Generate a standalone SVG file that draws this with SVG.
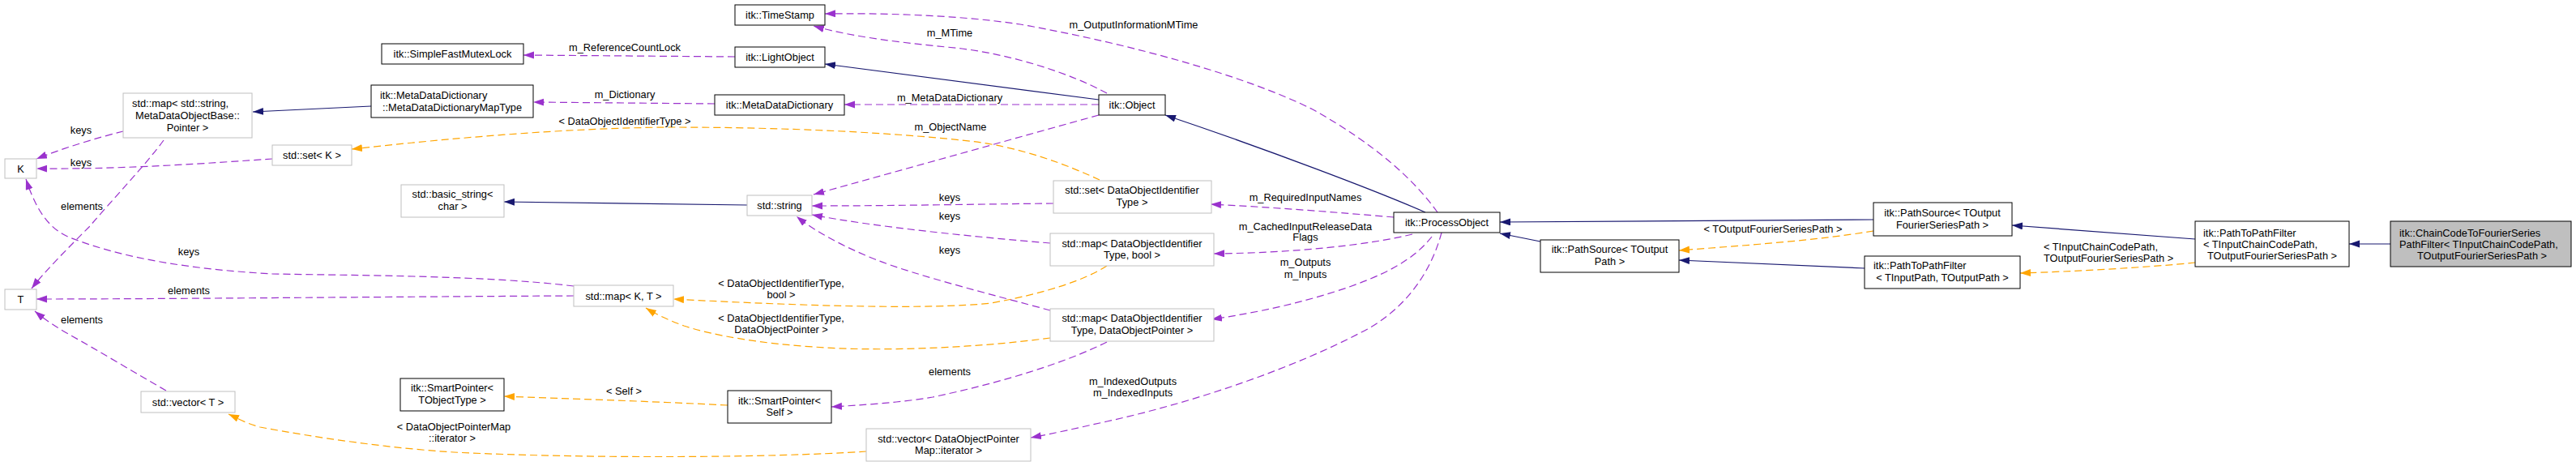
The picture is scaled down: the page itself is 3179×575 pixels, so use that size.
<svg xmlns="http://www.w3.org/2000/svg" width="3179" height="575" viewBox="0 0 3179 575">
<style>
text{font-family:"Liberation Sans",Arial,sans-serif;font-size:12.8px;fill:#000}
.m{text-anchor:middle}
.s{text-anchor:start}
.nb{fill:#fff;stroke:#000;stroke-width:1}
.ng{fill:#fff;stroke:#bfbfbf;stroke-width:1}
.nf{fill:#bfbfbf;stroke:#000;stroke-width:1}
.eb{fill:none;stroke:#191970;stroke-width:1.2;marker-end:url(#ab)}
.ep{fill:none;stroke:#9a32cd;stroke-width:1.2;stroke-dasharray:9,5;marker-end:url(#ap)}
.eo{fill:none;stroke:#ffa500;stroke-width:1.2;stroke-dasharray:9,5;marker-end:url(#ao)}
</style>
<defs>
<marker id="ab" markerUnits="userSpaceOnUse" markerWidth="14" markerHeight="10" refX="13" refY="4.5" orient="auto"><path d="M0,0 L13,4.5 L0,9 z" fill="#191970"/></marker>
<marker id="ap" markerUnits="userSpaceOnUse" markerWidth="14" markerHeight="10" refX="13" refY="4.5" orient="auto"><path d="M0,0 L13,4.5 L0,9 z" fill="#9a32cd"/></marker>
<marker id="ao" markerUnits="userSpaceOnUse" markerWidth="14" markerHeight="10" refX="13" refY="4.5" orient="auto"><path d="M0,0 L13,4.5 L0,9 z" fill="#ffa500"/></marker>
</defs>
<rect x="0" y="0" width="3179" height="575" fill="#fff"/>
<g id="edges">
<path class="eb" d="M458,131 L312,138"/>
<path class="eb" d="M922,253 L622,249"/>
<path class="eb" d="M1356,123 L1018,79"/>
<path class="eb" d="M1759,262 C1700,236 1560,183 1438,142"/>
<path class="eb" d="M1901,298 L1851,288"/>
<path class="eb" d="M2312,271 L1851,274"/>
<path class="eb" d="M2301,331 L2072,321"/>
<path class="eb" d="M2709,295 L2483,278"/>
<path class="eb" d="M2950,301 L2899,301"/>
<path class="ep" d="M152,162 C120,170 80,182 45,196"/>
<path class="ep" d="M336,196 C260,201 160,209 45,208"/>
<path class="ep" d="M202,173 C180,203 140,245 110,280 C85,305 55,335 39,356"/>
<path class="ep" d="M708,353 C600,340 450,340 336,338 C250,333 160,322 86,293 C60,282 45,260 32,221"/>
<path class="ep" d="M708,365 C500,366 200,369 45,369"/>
<path class="ep" d="M205,482 C170,462 120,432 86,413 C70,404 55,394 43,384"/>
<path class="ep" d="M907,70 L646,68"/>
<path class="ep" d="M882,128 L658,126"/>
<path class="ep" d="M1366,115 C1320,90 1250,68 1187,60 C1130,54 1060,48 1004,32"/>
<path class="ep" d="M1774,262 C1745,222 1700,180 1620,135 C1540,95 1400,55 1259,30 C1180,18 1080,16 1018,17"/>
<path class="ep" d="M1356,129 L1042,129"/>
<path class="ep" d="M1356,142 L1004,240"/>
<path class="ep" d="M1300,251 C1200,252 1100,254 1002,254"/>
<path class="ep" d="M1296,300 C1200,292 1080,280 1002,265"/>
<path class="ep" d="M1296,383 C1230,365 1130,340 1080,320 C1040,304 1005,285 983,267"/>
<path class="ep" d="M1366,422 C1330,440 1260,467 1151,490 C1110,497 1060,500 1026,502"/>
<path class="ep" d="M1720,268 C1650,262 1560,255 1494,252"/>
<path class="ep" d="M1743,289 C1690,302 1600,312 1498,313"/>
<path class="ep" d="M1767,292 C1745,320 1710,340 1647,360 C1600,375 1550,386 1495,394"/>
<path class="ep" d="M1779,287 C1765,340 1730,385 1680,410 C1600,452 1480,495 1366,520 C1330,528 1300,535 1272,540"/>
<path class="eo" d="M1357,222 C1320,205 1260,180 1187,173 C1100,164 980,157 826,157 C700,158 560,170 434,184"/>
<path class="eo" d="M1366,328 C1340,345 1290,362 1223,374 C1150,382 1000,378 831,369"/>
<path class="eo" d="M1296,417 C1200,430 1080,434 1004,428 C940,424 880,414 844,402 C825,395 810,388 797,380"/>
<path class="eo" d="M898,500 C800,495 700,492 622,489"/>
<path class="eo" d="M1069,557 C950,565 720,566 560,558 C480,553 390,540 321,527 C305,523 293,516 282,511"/>
<path class="eo" d="M2312,285 C2240,297 2150,303 2072,309"/>
<path class="eo" d="M2709,324 C2650,330 2560,335 2493,337"/>
<text class="m" x="100" y="164.5">keys</text>
<text class="m" x="100" y="204.5">keys</text>
<text class="m" x="101" y="258.5">elements</text>
<text class="m" x="233" y="315">keys</text>
<text class="m" x="233" y="363">elements</text>
<text class="m" x="101" y="398.5">elements</text>
<text class="m" x="771" y="63">m_ReferenceCountLock</text>
<text class="m" x="771" y="121">m_Dictionary</text>
<text class="m" x="1172" y="45">m_MTime</text>
<text class="m" x="1399" y="35">m_OutputInformationMTime</text>
<text class="m" x="1172" y="125">m_MetaDataDictionary</text>
<text class="m" x="1173" y="161">m_ObjectName</text>
<text class="m" x="1172" y="248">keys</text>
<text class="m" x="1172" y="271">keys</text>
<text class="m" x="1172" y="312.5">keys</text>
<text class="m" x="1172" y="463">elements</text>
<text class="m" x="1611" y="248">m_RequiredInputNames</text>
<text class="m" x="1611" y="283.5">m_CachedInputReleaseData</text>
<text class="m" x="1611" y="297">Flags</text>
<text class="m" x="1611" y="328">m_Outputs</text>
<text class="m" x="1611" y="342.5">m_Inputs</text>
<text class="m" x="1398" y="475">m_IndexedOutputs</text>
<text class="m" x="1398" y="489">m_IndexedInputs</text>
<text class="m" x="771" y="153.5">&lt; DataObjectIdentifierType &gt;</text>
<text class="m" x="964" y="353.5">&lt; DataObjectIdentifierType,</text>
<text class="m" x="964" y="368">bool &gt;</text>
<text class="m" x="964" y="396.5">&lt; DataObjectIdentifierType,</text>
<text class="m" x="964" y="411">DataObjectPointer &gt;</text>
<text class="m" x="770" y="487">&lt; Self &gt;</text>
<text class="m" x="560" y="531">&lt; DataObjectPointerMap</text>
<text class="m" x="558" y="545">::iterator &gt;</text>
<text class="m" x="2188" y="287">&lt; TOutputFourierSeriesPath &gt;</text>
<text class="s" x="2522" y="308.5">&lt; TInputChainCodePath,</text>
<text class="s" x="2522" y="323">TOutputFourierSeriesPath &gt;</text>
</g>
<g id="n_K"><rect class="ng" x="6" y="196" width="39" height="24"/><text class="m" x="25.5" y="212.5">K</text></g>
<g id="n_T"><rect class="ng" x="6" y="357" width="39" height="25"/><text class="m" x="25.5" y="373.5">T</text></g>
<g id="n_mapStr"><rect class="ng" x="152" y="115" width="159" height="55"/><text class="s" x="163" y="131.5">std::map&lt; std::string,</text><text class="s" x="167" y="146.5">MetaDataObjectBase::</text><text class="m" x="231.5" y="161.5">Pointer &gt;</text></g>
<g id="n_setK"><rect class="ng" x="336" y="179" width="98" height="25"/><text class="m" x="385" y="195.5">std::set&lt; K &gt;</text></g>
<g id="n_mutex"><rect class="nb" x="471" y="54" width="175" height="25"/><text class="m" x="558.5" y="70.5">itk::SimpleFastMutexLock</text></g>
<g id="n_mapType"><rect class="nb" x="458" y="105" width="200" height="40"/><text class="s" x="469" y="121.5">itk::MetaDataDictionary</text><text class="m" x="558" y="136.5">::MetaDataDictionaryMapType</text></g>
<g id="n_basicStr"><rect class="ng" x="495" y="228" width="127" height="40"/><text class="m" x="558.5" y="244">std::basic_string&lt;</text><text class="m" x="558.5" y="259">char &gt;</text></g>
<g id="n_timeStamp"><rect class="nb" x="907" y="6" width="111" height="25"/><text class="m" x="962.5" y="22.5">itk::TimeStamp</text></g>
<g id="n_lightObj"><rect class="nb" x="907" y="58" width="111" height="25"/><text class="m" x="962.5" y="74.5">itk::LightObject</text></g>
<g id="n_mdd"><rect class="nb" x="882" y="117" width="160" height="25"/><text class="m" x="962" y="133.5">itk::MetaDataDictionary</text></g>
<g id="n_stdString"><rect class="ng" x="922" y="241" width="80" height="25"/><text class="m" x="962" y="257.5">std::string</text></g>
<g id="n_mapKT"><rect class="ng" x="708" y="352" width="123" height="26"/><text class="m" x="769.5" y="369.5">std::map&lt; K, T &gt;</text></g>
<g id="n_spTObj"><rect class="nb" x="494" y="467" width="128" height="40"/><text class="m" x="558" y="483">itk::SmartPointer&lt;</text><text class="m" x="558" y="497.5">TObjectType &gt;</text></g>
<g id="n_spSelf"><rect class="nb" x="898" y="482" width="128" height="40"/><text class="m" x="962" y="499">itk::SmartPointer&lt;</text><text class="m" x="962" y="513">Self &gt;</text></g>
<g id="n_vecT"><rect class="ng" x="174" y="483" width="116" height="26"/><text class="m" x="232" y="500.5">std::vector&lt; T &gt;</text></g>
<g id="n_vecDOP"><rect class="ng" x="1069" y="529" width="203" height="40"/><text class="m" x="1170.5" y="545.5">std::vector&lt; DataObjectPointer</text><text class="m" x="1170.5" y="560">Map::iterator &gt;</text></g>
<g id="n_object"><rect class="nb" x="1356" y="117" width="82" height="25"/><text class="m" x="1397" y="133.5">itk::Object</text></g>
<g id="n_setDOIT"><rect class="ng" x="1300" y="223" width="195" height="40"/><text class="m" x="1397" y="239">std::set&lt; DataObjectIdentifier</text><text class="m" x="1397" y="253.5">Type &gt;</text></g>
<g id="n_mapBool"><rect class="ng" x="1296" y="288" width="202" height="40"/><text class="m" x="1397" y="304.5">std::map&lt; DataObjectIdentifier</text><text class="m" x="1397" y="319">Type, bool &gt;</text></g>
<g id="n_mapDOP"><rect class="ng" x="1296" y="381" width="202" height="40"/><text class="m" x="1397" y="397">std::map&lt; DataObjectIdentifier</text><text class="m" x="1397" y="412">Type, DataObjectPointer &gt;</text></g>
<g id="n_processObj"><rect class="nb" x="1720" y="262" width="131" height="25"/><text class="m" x="1785.5" y="278.5">itk::ProcessObject</text></g>
<g id="n_psTOP"><rect class="nb" x="1901" y="296" width="171" height="40"/><text class="m" x="1986.5" y="312">itk::PathSource&lt; TOutput</text><text class="m" x="1986.5" y="327">Path &gt;</text></g>
<g id="n_psTOFSP"><rect class="nb" x="2312" y="250" width="171" height="41"/><text class="m" x="2397" y="267">itk::PathSource&lt; TOutput</text><text class="m" x="2397" y="281.5">FourierSeriesPath &gt;</text></g>
<g id="n_ptpf1"><rect class="nb" x="2301" y="316" width="192" height="40"/><text class="s" x="2312" y="332">itk::PathToPathFilter</text><text class="m" x="2397" y="347">&lt; TInputPath, TOutputPath &gt;</text></g>
<g id="n_ptpf2"><rect class="nb" x="2709" y="273" width="190" height="56"/><text class="s" x="2719" y="291.5">itk::PathToPathFilter</text><text class="s" x="2719" y="305.5">&lt; TInputChainCodePath,</text><text class="m" x="2804" y="319.5">TOutputFourierSeriesPath &gt;</text></g>
<g id="n_chain"><rect class="nf" x="2950" y="273" width="223" height="56"/><text class="s" x="2961" y="291.5">itk::ChainCodeToFourierSeries</text><text class="s" x="2961" y="305.5">PathFilter&lt; TInputChainCodePath,</text><text class="m" x="3063" y="319.5">TOutputFourierSeriesPath &gt;</text></g>
</svg>
